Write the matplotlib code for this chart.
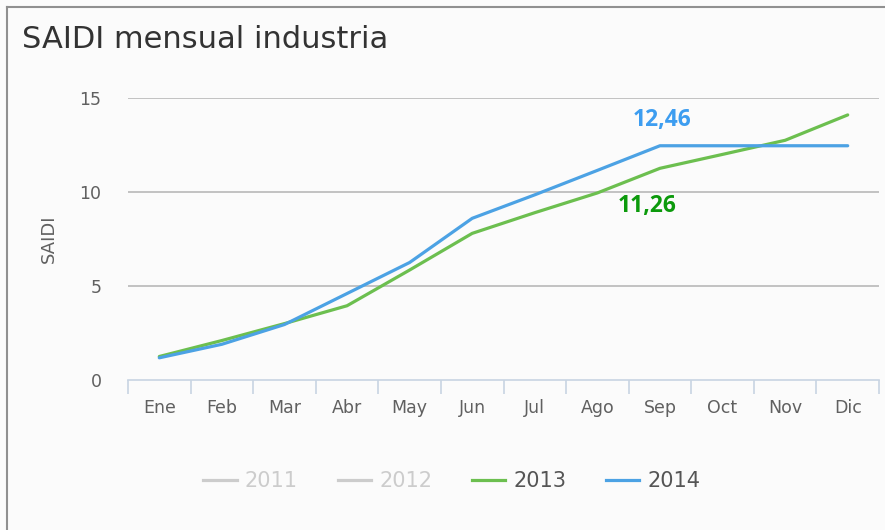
import matplotlib.pyplot as plt
import numpy as np
from matplotlib.lines import Line2D

# SAIDI mensual industria, valores acumulados
months = ['Ene', 'Feb', 'Mar', 'Abr', 'May', 'Jun', 'Jul', 'Ago', 'Sep', 'Oct', 'Nov', 'Dic']
saidi_2013 = [1.25, 2.1, 3.0, 3.95, 5.85, 7.8, 8.9, 9.95, 11.26, 12.0, 12.75, 14.1]
saidi_2014 = [1.18, 1.9, 2.95, 4.6, 6.25, 8.6, 9.85, 11.15, 12.46, 12.46, 12.46, 12.46]
legend_years = ['2011', '2012', '2013', '2014']

bg = '#fbfbfb'
fig = plt.figure(figsize=(8.85, 5.3), dpi=100, facecolor=bg)
ax = fig.add_axes([128 / 885, 1 - 380 / 530, 751 / 885, 282 / 530], facecolor=bg)

x = np.arange(len(months))
ax.plot(x, saidi_2013, color='#6cbf4f', lw=2.3, solid_capstyle='round', zorder=3)
ax.plot(x, saidi_2014, color='#4ca2e4', lw=2.3, solid_capstyle='round', zorder=4)

ax.set_xlim(-0.5, len(months) - 0.5)
ax.set_ylim(0, 15)
ax.set_yticks([0, 5, 10, 15])
for v in [5, 10, 15]:
    ax.axhline(v, color='#bdbdbd', lw=1.3, zorder=1)

for s in ['top', 'right', 'left']:
    ax.spines[s].set_visible(False)
ax.spines['bottom'].set_color('#c8d4e2')
ax.spines['bottom'].set_linewidth(1.2)

ax.set_xticks(np.arange(-0.5, len(months), 1))
ax.set_xticklabels([])
ax.set_xticks(x, minor=True)
ax.set_xticklabels(months, minor=True)
ax.tick_params(axis='x', which='major', length=10, width=1.2, color='#c8d4e2', direction='out')
ax.tick_params(axis='x', which='minor', length=0, pad=14, labelsize=12.5, labelcolor='#606060')
ax.tick_params(axis='y', length=0, pad=19, labelsize=12.5, labelcolor='#606060')
ax.set_ylabel('SAIDI', fontsize=13, color='#606060', labelpad=16)

# etiquetas de valor en septiembre
ax.text(8.03, 13.2, '12,46', color='#3d9df0', fontsize=16.5, fontweight='bold', ha='center', va='bottom',
        family='Open Sans')
ax.text(7.8, 8.6, '11,26', color='#0c9a0c', fontsize=16.5, fontweight='bold', ha='center', va='bottom',
        family='Open Sans')

fig.text(22 / 885, 1 - 40 / 530, 'SAIDI mensual industria', fontsize=22, color='#333333', va='center')

# marco del gráfico
fig.add_artist(Line2D([7 / 885, 7 / 885], [0, 1 - 7 / 530], color='#909090', lw=1.5))
fig.add_artist(Line2D([7 / 885, 1], [1 - 7 / 530, 1 - 7 / 530], color='#909090', lw=1.5))

# leyenda (2011 y 2012 ocultos)
leg_colors = ['#cccccc', '#cccccc', '#6cbf4f', '#4ca2e4']
text_colors = ['#cccccc', '#cccccc', '#555555', '#555555']
handles = [Line2D([], [], color=c, lw=2.3) for c in leg_colors]
leg = fig.legend(handles, legend_years, loc='center', bbox_to_anchor=(452 / 885, 1 - 481 / 530),
                 ncol=4, frameon=False, fontsize=15, handlelength=1.6, handletextpad=0.4,
                 columnspacing=1.9)
for t, c in zip(leg.get_texts(), text_colors):
    t.set_color(c)

fig.savefig('out.png', dpi=100, facecolor=bg)
